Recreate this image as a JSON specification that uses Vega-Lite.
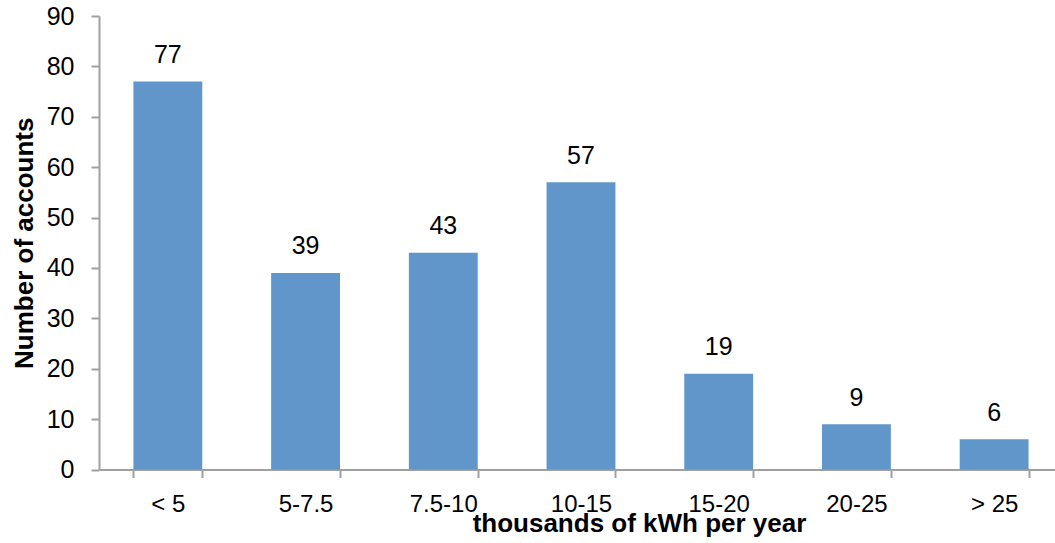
{
  "$schema": "https://vega.github.io/schema/vega-lite/v6.json",
  "autosize": {"type": "none"},
  "padding": {"left": 99, "top": 16, "right": 0, "bottom": 73},
  "width": 956,
  "height": 453.5,
  "background": "white",
  "config": {
    "view": {"stroke": null},
    "font": "Liberation Sans"
  },
  "data": {
    "values": [
      {"range": "< 5", "accounts": 77},
      {"range": "5-7.5", "accounts": 39},
      {"range": "7.5-10", "accounts": 43},
      {"range": "10-15", "accounts": 57},
      {"range": "15-20", "accounts": 19},
      {"range": "20-25", "accounts": 9},
      {"range": "> 25", "accounts": 6}
    ]
  },
  "encoding": {
    "x": {
      "field": "range",
      "type": "nominal",
      "sort": null,
      "scale": {"range": [0, 964], "paddingInner": 0.5, "paddingOuter": 0.25},
      "axis": {
        "title": "thousands of kWh per year",
        "titleFont": "Liberation Sans",
        "titleFontSize": 26,
        "titleFontWeight": "bold",
        "titleColor": "black",
        "titleX": 540,
        "titleY": 62,
        "titleAlign": "center",
        "titleBaseline": "alphabetic",
        "labelAngle": 0,
        "labelFontSize": 24,
        "labelColor": "black",
        "labelBaseline": "alphabetic",
        "labelPadding": 34,
        "tickBand": "extent",
        "tickSize": 8,
        "tickColor": "#a0a0a0",
        "tickWidth": 2,
        "domainColor": "#a0a0a0",
        "domainWidth": 2,
        "grid": false
      }
    },
    "y": {
      "field": "accounts",
      "type": "quantitative",
      "scale": {"domain": [0, 90], "nice": false},
      "axis": {
        "title": "Number of accounts",
        "titleFont": "Liberation Sans",
        "titleFontSize": 26,
        "titleFontWeight": "bold",
        "titleColor": "black",
        "titleX": -67,
        "titleBaseline": "alphabetic",
        "values": [0, 10, 20, 30, 40, 50, 60, 70, 80, 90],
        "labelFontSize": 25,
        "labelColor": "black",
        "labelPadding": 17,
        "tickSize": 8,
        "tickColor": "#a0a0a0",
        "tickWidth": 2,
        "domainColor": "#a0a0a0",
        "domainWidth": 2,
        "grid": false
      }
    }
  },
  "layer": [
    {"mark": {"type": "bar", "color": "#6096CA"}},
    {
      "mark": {"type": "text", "baseline": "alphabetic", "dy": -18.5, "fontSize": 25, "color": "black"},
      "encoding": {"text": {"field": "accounts", "type": "quantitative"}}
    }
  ]
}
